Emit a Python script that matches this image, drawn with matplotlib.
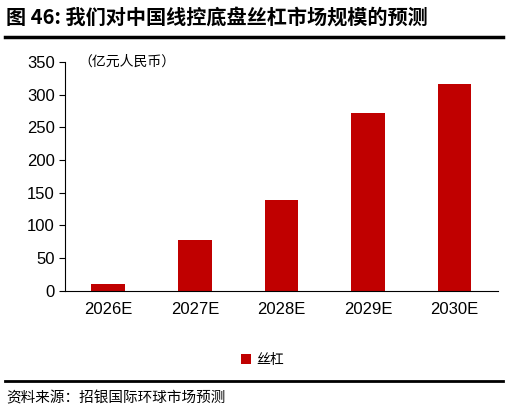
import matplotlib
matplotlib.use('Agg')
import matplotlib.pyplot as plt
from matplotlib.lines import Line2D

categories = ['2026E', '2027E', '2028E', '2029E', '2030E']
values = [10, 78, 139, 272, 316]
yticks = [0, 50, 100, 150, 200, 250, 300, 350]

plt.rcParams['font.family'] = ['Noto Sans CJK SC', 'DejaVu Sans']

fig = plt.figure(figsize=(5.08, 4.15), dpi=100)
ax = fig.add_axes([0.128, 0.299, 0.852, 0.552])
x = range(len(categories))
ax.bar(x, values, width=0.39, color='#C00000', label='丝杠')
ax.set_xlim(-0.5, len(categories) - 0.5)
ax.set_ylim(0, 350)
ax.set_yticks(yticks)
ax.set_xticks(list(x))
ax.set_xticklabels(categories, family='Liberation Sans', fontsize=12)
for t in ax.get_yticklabels():
    t.set_family('Liberation Sans')
    t.set_fontsize(12)
for s in ['top', 'right']:
    ax.spines[s].set_visible(False)
ax.tick_params(axis='x', length=0, pad=8)
ax.tick_params(axis='y', length=4, direction='out')
ax.text(0.03, 1.0, '（亿元人民币）', transform=ax.transAxes, fontsize=10, va='center', ha='left')

ax.legend(loc='center', bbox_to_anchor=(0.5 + (262 - 281) / 433, -0.30), frameon=False,
          fontsize=10, handlelength=0.7, handleheight=0.7, handletextpad=0.4)

fig.text(0.012, 0.959, '图 46: 我们对中国线控底盘丝杠市场规模的预测', fontsize=14.5, fontweight='bold', va='center')
fig.add_artist(Line2D([0.01, 0.99], [0.911, 0.911], color='black', lw=2.5))
fig.add_artist(Line2D([0.01, 0.99], [0.082, 0.082], color='black', lw=2))
fig.text(0.012, 0.041, '资料来源：招银国际环球市场预测', fontsize=10.5, va='center')

plt.savefig('out.png', dpi=100)
